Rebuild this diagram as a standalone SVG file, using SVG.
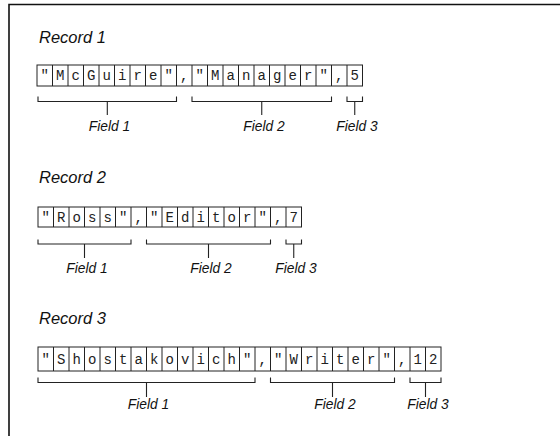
<svg xmlns="http://www.w3.org/2000/svg" width="560" height="436" viewBox="0 0 560 436">
<style>
.frame{fill:none;stroke:#111;stroke-width:1.6}
.cell{fill:#fff;stroke:#222;stroke-width:1}
.grid{fill:none;stroke:#222;stroke-width:1}
.br{fill:none;stroke:#222;stroke-width:1.1}
.title{font-family:"Liberation Sans",Arial,sans-serif;font-style:italic;font-size:16.5px;fill:#111}
.lab{font-family:"Liberation Sans",Arial,sans-serif;font-style:italic;font-size:13.8px;fill:#111;text-anchor:middle}
.ch{font-family:"Liberation Mono","Courier New",monospace;font-size:14px;fill:#222;text-anchor:middle}
</style>
<rect width="560" height="436" fill="#fff"/>
<path class="frame" d="M9 436 V4.5 H560"/>

<g id="record1">
<text class="title" x="39" y="43.3">Record 1</text>
<rect class="cell" x="37" y="65" width="325.5" height="21"/>
<path class="grid" d="M52.5 65v21M68 65v21M83.5 65v21M99 65v21M114.5 65v21M130 65v21M145.5 65v21M161 65v21M176.5 65v21M192 65v21M207.5 65v21M223 65v21M238.5 65v21M254 65v21M269.5 65v21M285 65v21M300.5 65v21M316 65v21M331.5 65v21M347 65v21"/>
<text class="ch" y="80" x="44.75 60.25 75.75 91.25 106.75 122.25 137.75 153.25 168.75 184.25 199.75 215.25 230.75 246.25 261.75 277.25 292.75 308.25 323.75 339.25 354.75">"McGuire","Manager",5</text>
<text class="lab" x="109.5" y="130.7">Field 1</text>
<text class="lab" x="264" y="130.7">Field 2</text>
<text class="lab" x="357" y="130.7">Field 3</text>
</g>

<g id="record2">
<text class="title" x="39" y="183.3">Record 2</text>
<rect class="cell" x="38" y="207" width="263.5" height="20"/>
<path class="grid" d="M53.5 207v20M69 207v20M84.5 207v20M100 207v20M115.5 207v20M131 207v20M146.5 207v20M162 207v20M177.5 207v20M193 207v20M208.5 207v20M224 207v20M239.5 207v20M255 207v20M270.5 207v20M286 207v20"/>
<text class="ch" y="221.5" x="45.75 61.25 76.75 92.25 107.75 123.25 138.75 154.25 169.75 185.25 200.75 216.25 231.75 247.25 262.75 278.25 293.75">"Ross","Editor",7</text>
<text class="lab" x="87" y="272.7">Field 1</text>
<text class="lab" x="211" y="272.7">Field 2</text>
<text class="lab" x="296" y="272.7">Field 3</text>
</g>

<g id="record3">
<text class="title" x="39" y="324.3">Record 3</text>
<rect class="cell" x="38" y="347" width="403" height="24"/>
<path class="grid" d="M53.5 347v24M69 347v24M84.5 347v24M100 347v24M115.5 347v24M131 347v24M146.5 347v24M162 347v24M177.5 347v24M193 347v24M208.5 347v24M224 347v24M239.5 347v24M255 347v24M270.5 347v24M286 347v24M301.5 347v24M317 347v24M332.5 347v24M348 347v24M363.5 347v24M379 347v24M394.5 347v24M410 347v24M425.5 347v24"/>
<text class="ch" y="363.5" x="45.75 61.25 76.75 92.25 107.75 123.25 138.75 154.25 169.75 185.25 200.75 216.25 231.75 247.25 262.75 278.25 293.75 309.25 324.75 340.25 355.75 371.25 386.75 402.25 417.75 433.25">"Shostakovich","Writer",12</text>
<text class="lab" x="148.5" y="409">Field 1</text>
<text class="lab" x="335" y="409">Field 2</text>
<text class="lab" x="428" y="409">Field 3</text>
</g>

<g id="connectors">
<path class="br" d="M38 96.5V101.5H176.5V96.5M107.3 101.5V115"/>
<path class="br" d="M192 96.5V101.5H331.5V96.5M261.75 101.5V115"/>
<path class="br" d="M347 96.5V101.5H362.5V96.5M354.75 101.5V115"/>
<path class="br" d="M38 239.5V244H131V239.5M84.5 244V258"/>
<path class="br" d="M146.5 239.5V244H270.5V239.5M208.5 244V258"/>
<path class="br" d="M286 239.5V244H301.5V239.5M293.75 244V258"/>
<path class="br" d="M38 377.5V382.5H255V377.5M146.5 382.5V397"/>
<path class="br" d="M270.5 377.5V382.5H394.5V377.5M332.5 382.5V397"/>
<path class="br" d="M410 377.5V382.5H441V377.5M425.5 382.5V397"/>
</g>
</svg>
